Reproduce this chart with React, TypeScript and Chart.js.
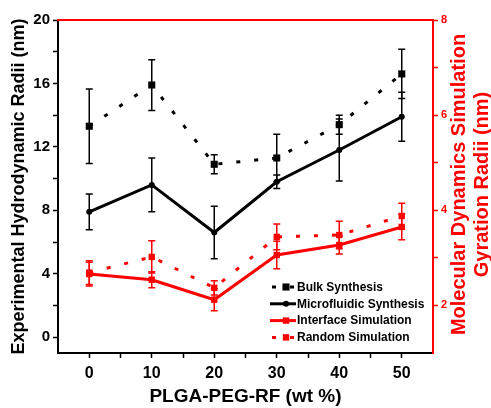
import React, { useEffect, useRef } from 'react';
import { Chart, registerables } from 'chart.js';

Chart.register(...registerables);

// ---- data ----
const xValues = [0, 10, 20, 30, 40, 50];

// left axis (nm)
const bulk = [13.3, 15.9, 10.9, 11.3, 13.4, 16.6];
const bulkErr = [2.35, 1.6, 0.6, 1.5, 0.6, 1.55];
const micro = [7.9, 9.6, 6.6, 9.8, 11.8, 13.9];
const microErr = [1.13, 1.7, 1.65, 0.42, 1.95, 1.55];

// right axis (nm)
const interfaceSim = [2.66, 2.54, 2.12, 3.06, 3.27, 3.65];
const interfaceErr = [0.25, 0.17, 0.23, 0.29, 0.19, 0.27];
const randomSim = [2.69, 3.02, 2.37, 3.44, 3.48, 3.88];
const randomErr = [0.25, 0.34, 0.15, 0.27, 0.29, 0.27];

const seriesNames = ['Bulk Synthesis', 'Microfluidic Synthesis', 'Interface Simulation', 'Random Simulation'];

const xTicks = [0, 5, 10, 15, 20, 25, 30, 35, 40, 45, 50];
const leftTicks = [0, 2, 4, 6, 8, 10, 12, 14, 16, 18, 20];
const rightTicks = [2, 3, 4, 5, 6, 7, 8];

const xTitle = 'PLGA-PEG-RF (wt %)';
const leftTitle = 'Experimental Hydrodynamic Radii (nm)';
const rightTitle = ['Molecular Dynamics Simulation', 'Gyration Radii (nm)'];

const FONT = '"Liberation Sans", Arial, sans-serif';
const RED = '#ff0000';

const toPoints = (ys: number[]) => xValues.map((x, i) => ({ x, y: ys[i] }));

const errorBarPlugin = {
  id: 'errorBars',
  beforeDatasetsDraw(chart: any) {
    const ctx = chart.ctx;
    const xs = chart.scales.x;
    chart.data.datasets.forEach((ds: any) => {
      const ys = chart.scales[ds.yAxisID];
      ctx.save();
      ctx.strokeStyle = ds.borderColor;
      ctx.lineWidth = 1.5;
      ds.data.forEach((pt: any, j: number) => {
        const e = ds.errors[j];
        const px = xs.getPixelForValue(pt.x);
        const t = ys.getPixelForValue(pt.y + e);
        const b = ys.getPixelForValue(pt.y - e);
        ctx.beginPath();
        ctx.moveTo(px, t);
        ctx.lineTo(px, b);
        ctx.moveTo(px - 3.5, t);
        ctx.lineTo(px + 3.5, t);
        ctx.moveTo(px - 3.5, b);
        ctx.lineTo(px + 3.5, b);
        ctx.stroke();
      });
      ctx.restore();
    });
  },
};

const decorPlugin = {
  id: 'decor',
  afterDraw(chart: any) {
    const ctx = chart.ctx;
    const ca = chart.chartArea;
    // top red border
    ctx.save();
    ctx.strokeStyle = RED;
    ctx.lineWidth = 2;
    ctx.beginPath();
    ctx.moveTo(ca.left - 1, ca.top);
    ctx.lineTo(ca.right + 1, ca.top);
    ctx.stroke();
    ctx.restore();

    // right title (reads bottom to top)
    ctx.save();
    ctx.fillStyle = RED;
    ctx.font = `bold 20px ${FONT}`;
    ctx.textAlign = 'center';
    ctx.textBaseline = 'alphabetic';
    const cy = (ca.top + ca.bottom) / 2 - 2;
    ctx.translate(465, cy);
    ctx.rotate(-Math.PI / 2);
    ctx.fillText(rightTitle[0], 0, 0);
    ctx.fillText(rightTitle[1], 0, 23);
    ctx.restore();

    // legend
    ctx.save();
    chart.data.datasets.forEach((ds: any, i: number) => {
      const y = 287 + i * 16.8;
      ctx.strokeStyle = ds.borderColor;
      ctx.lineWidth = ds.borderWidth;
      ctx.setLineDash(ds.borderDash || []);
      ctx.beginPath();
      if (ds.borderDash && ds.borderDash.length) {
        ctx.moveTo(272, y);
        ctx.lineTo(296, y);
      } else {
        ctx.moveTo(270, y);
        ctx.lineTo(296, y);
      }
      ctx.stroke();
      ctx.setLineDash([]);
      ctx.fillStyle = ds.pointBackgroundColor;
      const mx = 286;
      if (ds.pointStyle === 'rect') {
        const s = ds.pointRadius * Math.SQRT1_2;
        ctx.fillRect(mx - s, y - s, 2 * s, 2 * s);
      } else {
        ctx.beginPath();
        ctx.arc(mx, y, ds.pointRadius, 0, Math.PI * 2);
        ctx.fill();
      }
      ctx.fillStyle = '#000';
      ctx.font = `bold 12px ${FONT}`;
      ctx.textAlign = 'left';
      ctx.textBaseline = 'middle';
      ctx.fillText(seriesNames[i], 297, y + 0.5);
    });
    ctx.restore();
  },
};

export default function App() {
  const ref = useRef<HTMLCanvasElement>(null);

  useEffect(() => {
    if (!ref.current) return;
    const chart = new Chart(ref.current, {
      type: 'line',
      data: {
        datasets: [
          {
            label: seriesNames[0],
            data: toPoints(bulk),
            errors: bulkErr,
            yAxisID: 'y',
            borderColor: '#000',
            backgroundColor: '#000',
            pointBackgroundColor: '#000',
            pointBorderColor: '#000',
            borderWidth: 3,
            borderDash: [4, 14],
            pointStyle: 'rect',
            pointRadius: 5,
            pointBorderWidth: 0,
          },
          {
            label: seriesNames[1],
            data: toPoints(micro),
            errors: microErr,
            yAxisID: 'y',
            borderColor: '#000',
            backgroundColor: '#000',
            pointBackgroundColor: '#000',
            pointBorderColor: '#000',
            borderWidth: 3,
            pointStyle: 'circle',
            pointRadius: 3,
            pointBorderWidth: 0,
          },
          {
            label: seriesNames[2],
            data: toPoints(interfaceSim),
            errors: interfaceErr,
            yAxisID: 'y2',
            borderColor: RED,
            backgroundColor: RED,
            pointBackgroundColor: RED,
            pointBorderColor: RED,
            borderWidth: 3,
            pointStyle: 'rect',
            pointRadius: 4.5,
            pointBorderWidth: 0,
          },
          {
            label: seriesNames[3],
            data: toPoints(randomSim),
            errors: randomErr,
            yAxisID: 'y2',
            borderColor: RED,
            backgroundColor: RED,
            pointBackgroundColor: RED,
            pointBorderColor: RED,
            borderWidth: 3,
            borderDash: [4, 14],
            pointStyle: 'rect',
            pointRadius: 4.5,
            pointBorderWidth: 0,
          },
        ] as any,
      },
      options: {
        animation: false,
        responsive: true,
        maintainAspectRatio: false,
        layout: { padding: { top: 20, left: 0, right: 0, bottom: 0 } },
        plugins: {
          legend: { display: false },
          tooltip: { enabled: false },
        },
        elements: { line: { tension: 0 } },
        scales: {
          x: {
            type: 'linear',
            position: 'bottom',
            min: -5,
            max: 55,
            afterBuildTicks: (s: any) => {
              s.ticks = xTicks.map((v) => ({ value: v }));
            },
            afterFit: (s: any) => {
              s.height = 55;
            },
            border: { display: true, color: '#000', width: 2 },
            grid: {
              drawOnChartArea: false,
              drawTicks: true,
              tickLength: 5,
              tickColor: '#000',
              tickWidth: 1.5,
            },
            ticks: {
              autoSkip: false,
              maxRotation: 0,
              padding: 6,
              color: '#000',
              font: { family: FONT, size: 16, weight: 'bold' },
              callback: (v: any) => (v % 10 === 0 ? String(v) : ''),
            },
            title: {
              display: true,
              text: xTitle,
              color: '#000',
              font: { family: FONT, size: 19, weight: 'bold' },
              padding: { top: 0, bottom: 0 },
            },
          },
          y: {
            type: 'linear',
            position: 'left',
            min: -1,
            max: 20,
            afterBuildTicks: (s: any) => {
              s.ticks = leftTicks.map((v) => ({ value: v }));
            },
            afterFit: (s: any) => {
              s.width = 58;
            },
            border: { display: true, color: '#000', width: 2 },
            grid: {
              drawOnChartArea: false,
              drawTicks: true,
              tickLength: 5,
              tickColor: '#000',
              tickWidth: 1.5,
            },
            ticks: {
              autoSkip: false,
              padding: 3,
              color: '#000',
              font: { family: FONT, size: 15, weight: 'bold' },
              callback: (v: any) => (v % 4 === 0 ? String(v) : ''),
            },
            title: {
              display: true,
              text: leftTitle,
              color: '#000',
              font: { family: FONT, size: 18, weight: 'bold' },
              padding: { top: 8, bottom: 0 },
            },
          },
          y2: {
            type: 'linear',
            position: 'right',
            min: 1,
            max: 8,
            afterBuildTicks: (s: any) => {
              s.ticks = rightTicks.map((v) => ({ value: v }));
            },
            afterFit: (s: any) => {
              s.width = 58;
            },
            border: { display: true, color: RED, width: 2 },
            grid: {
              drawOnChartArea: false,
              drawTicks: true,
              tickLength: 5,
              tickColor: RED,
              tickWidth: 1.5,
            },
            ticks: {
              autoSkip: false,
              padding: 3,
              color: RED,
              font: { family: FONT, size: 11, weight: 'bold' },
              callback: (v: any) => (v % 2 === 0 ? String(v) : ''),
            },
            title: { display: false },
          },
        },
      } as any,
      plugins: [errorBarPlugin, decorPlugin],
    });
    return () => chart.destroy();
  }, []);

  return (
    <div style={{ position: 'absolute', left: 0, top: 0, width: 491, height: 408, background: '#fff' }}>
      <canvas ref={ref} />
    </div>
  );
}
